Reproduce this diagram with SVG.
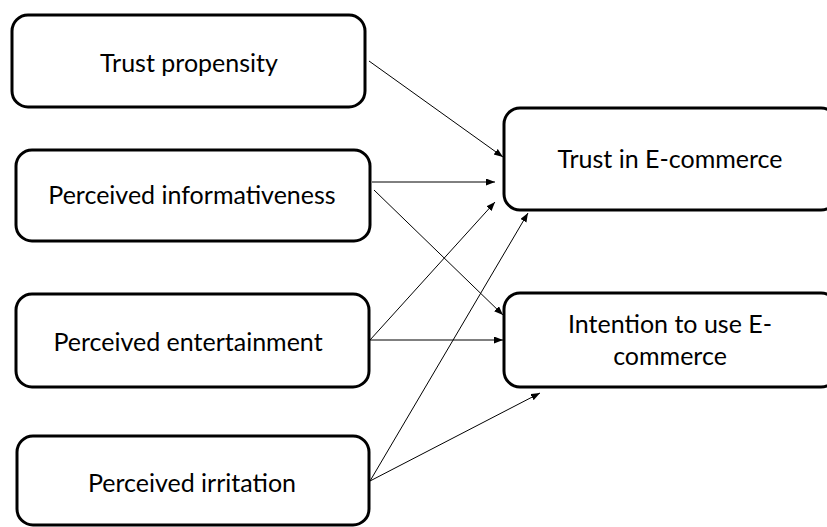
<svg xmlns="http://www.w3.org/2000/svg" width="827" height="527" viewBox="0 0 827 527">
  <defs>
    <marker id="arrow" markerUnits="userSpaceOnUse" markerWidth="10" markerHeight="8" refX="9" refY="3.5" orient="auto">
      <path d="M0,0 L9,3.5 L0,7 z" fill="#000"/>
    </marker>
    <style>
      .box { fill: #fff; stroke: #000; stroke-width: 3; }
      .label { font-family: Lato, "Liberation Sans", sans-serif; font-size: 25px; fill: #000; text-anchor: middle; }
      .link { stroke: #000; stroke-width: 1; fill: none; marker-end: url(#arrow); }
    </style>
  </defs>
  <rect width="827" height="527" fill="#fff"/>

  <g id="links">
    <line class="link" x1="369" y1="61" x2="503" y2="157"/>
    <line class="link" x1="372" y1="182" x2="495" y2="182"/>
    <line class="link" x1="374" y1="190" x2="503" y2="315"/>
    <line class="link" x1="370" y1="340" x2="495" y2="202"/>
    <line class="link" x1="370" y1="340" x2="503" y2="340"/>
    <line class="link" x1="370" y1="481" x2="528" y2="213"/>
    <line class="link" x1="370" y1="481" x2="540" y2="393"/>
  </g>

  <g id="trust-propensity">
    <rect class="box" x="12" y="15" width="353" height="92" rx="16"/>
    <text class="label" x="189" y="72">Trust propensity</text>
  </g>
  <g id="perceived-informativeness">
    <rect class="box" x="16" y="150" width="354" height="91" rx="16"/>
    <text class="label" x="192" y="204">Perceived informativeness</text>
  </g>
  <g id="perceived-entertainment">
    <rect class="box" x="16" y="294" width="353" height="93" rx="16"/>
    <text class="label" x="188" y="351">Perceived entertainment</text>
  </g>
  <g id="perceived-irritation">
    <rect class="box" x="17" y="436" width="352" height="89" rx="16"/>
    <text class="label" x="192" y="492">Perceived irritation</text>
  </g>
  <g id="trust-in-ecommerce">
    <rect class="box" x="504" y="108" width="333" height="102" rx="16"/>
    <text class="label" x="670" y="168">Trust in E-commerce</text>
  </g>
  <g id="intention-to-use">
    <rect class="box" x="504" y="293" width="333" height="94" rx="16"/>
    <text class="label" x="670" y="333">Intention to use E-</text>
    <text class="label" x="670" y="365">commerce</text>
  </g>
</svg>
